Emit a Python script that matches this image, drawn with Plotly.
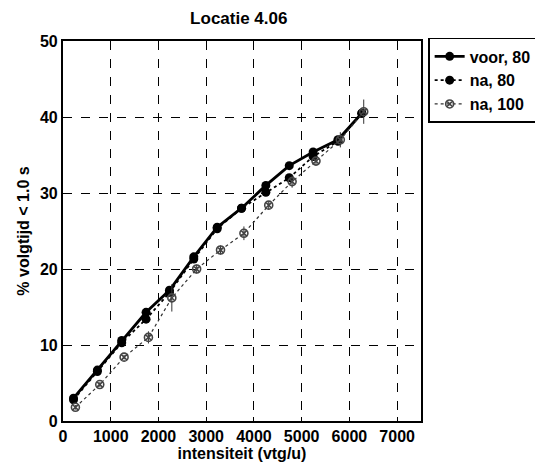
import plotly.graph_objects as go

x_80 = [220, 720, 1230, 1740, 2230, 2740, 3230, 3740, 4250, 4740, 5240, 5760, 6260]
voor_80 = [3.0, 6.7, 10.6, 14.3, 17.2, 21.6, 25.5, 28.0, 31.0, 33.6, 35.4, 37.0, 40.5]
na_80 = [2.8, 6.5, 10.3, 13.4, 16.9, 21.3, 25.3, 28.0, 30.1, 32.0, 34.8, 36.8, 40.5]
x_100 = [260, 770, 1280, 1790, 2280, 2800, 3300, 3790, 4310, 4800, 5300, 5810, 6300]
na_100 = [1.8, 4.8, 8.4, 11.0, 16.2, 20.0, 22.5, 24.7, 28.4, 31.5, 34.2, 37.0, 40.7]
na_100_err = [0.3, 0.3, 0.3, 0.8, 1.8, 0.6, 0.6, 0.9, 0.5, 0.8, 0.5, 1.0, 1.6]

x_ticks = [0, 1000, 2000, 3000, 4000, 5000, 6000, 7000]
y_ticks = [0, 10, 20, 30, 40, 50]

FONT = "Liberation Sans, Arial, sans-serif"

fig = go.Figure()
fig.add_trace(go.Scatter(
    x=x_80, y=voor_80, name="voor, 80", mode="lines+markers",
    line=dict(color="black", width=2.8),
    marker=dict(symbol="circle", size=9, color="black")))
fig.add_trace(go.Scatter(
    x=x_80, y=na_80, name="na, 80", mode="lines+markers",
    line=dict(color="black", width=1.8, dash="dot"),
    marker=dict(symbol="circle", size=9, color="black")))
fig.add_trace(go.Scatter(
    x=x_100, y=na_100, name="na, 100", mode="lines+markers",
    line=dict(color="#333333", width=1.2, dash="dot"),
    marker=dict(symbol="circle-x-open", size=8, color="#444444",
                line=dict(width=1.6)),
    error_y=dict(type="data", array=na_100_err, color="#333333",
                 thickness=1, width=0)))

axis_common = dict(
    showgrid=True, gridcolor="black", griddash="dash", gridwidth=1,
    showline=True, linecolor="black", linewidth=2.2, mirror=True,
    ticks="inside", ticklen=4, tickcolor="black", zeroline=False,
    tickfont=dict(family=FONT, size=16, color="black", weight="bold"),
)

fig.update_layout(
    width=543, height=467,
    paper_bgcolor="white", plot_bgcolor="white",
    margin=dict(l=55, r=130, t=33, b=54),
    title=dict(text="Locatie 4.06", x=0.425, xanchor="center", y=0.979,
               yanchor="middle",
               font=dict(family=FONT, size=17, color="black", weight="bold")),
    xaxis=dict(range=[0, 7500], tickvals=x_ticks,
               title=dict(text="intensiteit (vtg/u)", standoff=0,
                          font=dict(family=FONT, size=16, color="black",
                                    weight="bold")),
               **axis_common),
    yaxis=dict(range=[0, 50], tickvals=y_ticks,
               title=dict(text="% volgtijd < 1.0 s", standoff=6,
                          font=dict(family=FONT, size=16, color="black",
                                    weight="bold")),
               **axis_common),
    legend=dict(x=1.02, y=1.008, xanchor="left", yanchor="top",
                bordercolor="black", borderwidth=1.5, bgcolor="white",
                font=dict(family=FONT, size=16, color="black", weight="bold"),
                tracegroupgap=0, itemwidth=30),
    showlegend=True,
)

fig.write_html("out.html")
